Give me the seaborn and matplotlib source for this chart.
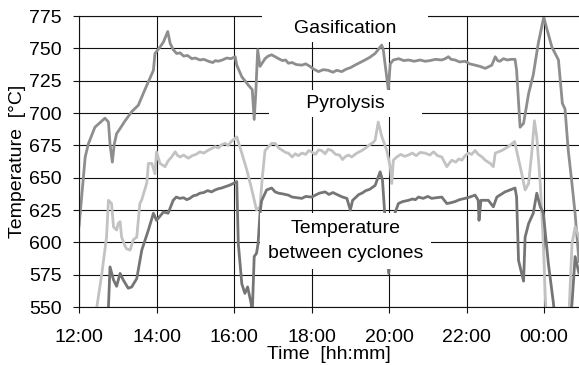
import matplotlib
matplotlib.use("Agg")
import matplotlib.pyplot as plt
import pandas as pd
import seaborn as sns

# time as clock hours (values above 24 are past midnight), temperature in degC
gas_time = [12.00, 12.16, 12.24, 12.41, 12.67, 12.76, 12.80, 12.86, 12.91, 12.97,
            13.06, 13.19, 13.36, 13.53, 13.70, 13.92, 13.96, 14.09, 14.18, 14.29,
            14.35, 14.43, 14.52, 14.61, 14.70, 14.80, 14.91, 15.00, 15.12, 15.22,
            15.34, 15.45, 15.52, 15.59, 15.70, 15.81, 15.92, 16.03, 16.07,
            16.20, 16.37, 16.47, 16.52, 16.56, 16.61, 16.67, 16.80, 16.88, 16.97,
            17.06, 17.15, 17.25, 17.33, 17.40, 17.50, 17.60, 17.75, 17.85, 17.96,
            18.05, 18.18, 18.30, 18.43, 18.55, 18.65, 18.78, 18.90, 19.00, 19.12,
            19.25, 19.38, 19.50, 19.64, 19.77,
            19.81, 19.85, 19.98, 20.03, 20.11, 20.25, 20.38, 20.50, 20.65, 20.80,
            20.93, 21.05, 21.20, 21.36, 21.45, 21.53, 21.60, 21.70, 21.82, 21.96,
            22.08, 22.22, 22.35, 22.48, 22.55, 22.65, 22.74, 22.80, 22.86, 22.95,
            23.05, 23.15, 23.25, 23.29, 23.38, 23.47,
            23.60, 23.72, 23.85, 23.99, 24.20, 24.37, 24.47, 24.54, 24.62, 24.72,
            24.80, 24.90]
gas_temp = [612, 666, 676, 689, 696, 693, 676, 662, 676, 684,
            688, 694, 701, 706, 718, 733, 746, 751, 755, 763,
            754, 749, 746, 746.5, 744, 744.5, 742, 742.5, 741, 741.5,
            740, 739, 740.5, 740, 741, 742.5, 742, 743.5, 737,
            728, 721.5, 718, 695, 715, 749, 736, 742, 744, 745,
            743.5, 742, 740.5, 741, 738.5, 739, 737.5, 737, 738, 736,
            734, 732, 733.5, 733, 731.5, 733, 732, 734, 735, 737,
            739, 741, 743, 746, 751,
            752.5, 749, 718, 738, 741, 742, 740.5, 741, 740, 741,
            740, 740.5, 741.5, 741, 742, 743.5, 741.5, 741, 739.5, 740,
            738, 737, 736, 734.5, 735.5, 737, 743.5, 740.5, 740, 742,
            741, 741.5, 741.5, 733, 689, 692,
            715, 729.5, 754, 774, 751, 741, 707.5, 703, 672, 645,
            622, 585]

pyr_time = [12.40, 12.46, 12.59, 12.71, 12.76, 12.84, 12.89, 12.97, 13.01, 13.06,
            13.10, 13.19, 13.23, 13.32, 13.40, 13.49, 13.57, 13.62, 13.75, 13.79,
            13.88, 13.96, 14.00, 14.09, 14.22, 14.30, 14.39, 14.48, 14.55, 14.61,
            14.70, 14.82, 14.92, 15.02, 15.12, 15.22, 15.32, 15.42, 15.51, 15.60,
            15.68, 15.77, 15.85, 15.93, 16.03, 16.07, 16.20, 16.33, 16.46, 16.58,
            16.67, 16.73, 16.80, 16.97, 17.06, 17.15, 17.25, 17.33, 17.40, 17.50,
            17.58, 17.66, 17.75, 17.85, 17.93, 18.00, 18.10, 18.18, 18.26, 18.35,
            18.43, 18.52, 18.62, 18.72, 18.80, 18.86, 18.95, 19.04, 19.12, 19.20,
            19.30, 19.40, 19.50, 19.58, 19.64, 19.72, 19.81, 19.94, 20.03, 20.07,
            20.11, 20.20, 20.30, 20.40, 20.50, 20.60, 20.70, 20.80, 20.93, 21.05,
            21.15, 21.25, 21.36, 21.49, 21.55, 21.62, 21.72, 21.80, 21.88, 21.96,
            22.05, 22.13, 22.22, 22.30, 22.40, 22.48, 22.61, 22.69,
            22.74, 22.91, 23.08, 23.24, 23.29, 23.42, 23.51, 23.60, 23.68, 23.75,
            23.81, 23.90, 23.98, 24.03, 24.08, 24.62, 24.72, 24.80, 24.90]
pyr_temp = [540, 550, 576, 604, 632.5, 630, 612, 609.5, 614.5, 616,
            604, 597, 595, 594, 602, 604, 630, 633, 646, 661,
            661, 653, 670, 661, 658.5, 663, 666, 670, 667, 666,
            667.5, 665, 667, 668, 670, 669, 671, 672.5, 674, 673,
            675.5, 676.5, 675, 678, 680.5, 681.5, 669, 656, 640.5, 625,
            627.5, 650.5, 671, 676.5, 676.5, 673, 671, 669.5, 669, 666,
            668.5, 667, 669, 668, 671, 670, 668, 671.5, 671, 668.5,
            672, 671, 668, 667.5, 664, 666, 667.5, 666, 668, 669.5,
            671, 673, 675.5, 677, 679, 693, 682, 671, 658.5, 645.5,
            663.5, 666, 668, 666.5, 667.5, 669, 667, 669.5, 669, 667.5,
            670, 667, 666, 658.5, 661, 663.5, 662, 664.5, 663.5, 667,
            669, 668, 671, 668, 666, 663.5, 661, 658.5,
            669, 671, 674, 678, 671, 653.5, 640.5, 645.5, 669, 694,
            681.5, 645.5, 599, 558, 530, 530, 599, 612, 604]

cyc_time = [12.75, 12.76, 12.80, 12.89, 12.97, 13.06, 13.14, 13.27, 13.36, 13.49,
            13.62, 13.79, 13.92, 14.00, 14.18, 14.30, 14.43, 14.51, 14.60, 14.70,
            14.78, 14.86, 14.95, 15.03, 15.12, 15.22, 15.32, 15.42, 15.51, 15.60,
            15.68, 15.77, 15.87, 15.98, 16.07, 16.11, 16.20, 16.28, 16.35, 16.44,
            16.47, 16.52, 16.58, 16.62, 16.67, 16.71, 16.84, 16.97, 17.06, 17.15,
            17.25, 17.40, 17.50, 17.62, 17.75, 17.85, 18.00, 18.10, 18.20, 18.35,
            18.45, 18.55, 18.69, 18.80, 18.91, 19.00, 19.06, 19.15, 19.22, 19.30,
            19.40, 19.50, 19.64, 19.77, 19.83, 19.99, 20.15, 20.24, 20.35, 20.50,
            20.60, 20.68, 20.76, 20.88, 21.00, 21.10, 21.22, 21.36, 21.49, 21.58,
            21.70, 21.82, 21.96, 22.08, 22.22, 22.30, 22.32, 22.37, 22.56, 22.69,
            22.78, 22.99, 23.25, 23.29, 23.34, 23.42, 23.47, 23.51, 23.60, 23.72,
            23.81, 23.90, 23.98, 24.11, 24.24, 24.28, 24.67, 24.72, 24.80, 24.90]
cyc_temp = [540, 550, 581, 571, 566, 576, 571, 564.5, 565.5, 572,
            594, 609.5, 622.5, 617, 623.5, 622.5, 632.5, 635, 634, 634.5,
            633, 634, 636, 636.5, 638, 638.5, 640, 639, 640.5, 641.5,
            642, 643, 644, 645.5, 647, 599, 568, 560.5, 565.5, 553,
            545, 589, 591.5, 599, 622.5, 632, 640.5, 642, 639, 638,
            637.5, 636.5, 635, 634.5, 634, 635.5, 635, 636.5, 638, 639,
            637, 638.5, 636.5, 635, 634, 625, 632.5, 635, 637, 638,
            640, 641, 644, 654.5, 648, 576, 622.5, 630, 631.5, 632.5,
            633.5, 633, 635, 634, 635.5, 634, 634.5, 635, 630, 630.5,
            631.5, 633, 634, 635, 636.5, 632.5, 617, 632.5, 632.5, 627.5,
            635, 639, 642, 635, 586, 576, 570, 604, 614.5, 622.5,
            638, 627.5, 622.5, 583.5, 553, 540, 540, 553, 589, 576]

x_ticks = [12, 14, 16, 18, 20, 22, 24]
x_tick_labels = ["12:00", "14:00", "16:00", "18:00", "20:00", "22:00", "00:00"]
y_ticks = list(range(550, 776, 25))

sns.set_style("white")
plt.rcParams['font.family'] = ['Liberation Sans', 'DejaVu Sans']
plt.rcParams['text.color'] = 'black'
plt.rcParams['axes.labelcolor'] = 'black'
plt.rcParams['xtick.color'] = 'black'
plt.rcParams['ytick.color'] = 'black'

fig = plt.figure(figsize=(5.79, 3.65), dpi=100)
ax = fig.add_axes([79 / 579, 58 / 365, 500 / 579, 291 / 365])

sns.lineplot(x=gas_time, y=gas_temp, ax=ax, color='#8e8e8e', lw=2.0,
             sort=False, estimator=None)
sns.lineplot(x=pyr_time, y=pyr_temp, ax=ax, color='#c2c2c2', lw=2.0,
             sort=False, estimator=None)
sns.lineplot(x=cyc_time, y=cyc_temp, ax=ax, color='#757575', lw=2.0,
             sort=False, estimator=None)

ax.set_xlim(12, 24.9)
ax.set_ylim(550, 775)
ax.set_xticks(x_ticks)
ax.set_xticklabels(x_tick_labels)
ax.set_yticks(y_ticks)

ax.grid(True, color='#111111', lw=0.8)
ax.set_axisbelow(True)
for side in ['left', 'bottom', 'top']:
    ax.spines[side].set_color('#111111')
    ax.spines[side].set_linewidth(0.8)
ax.spines['right'].set_visible(False)

ax.tick_params(bottom=True, left=True, direction='out', length=4.5, width=0.8,
               color='#111111', labelsize=14)
ax.tick_params(axis='x', pad=11)
ax.tick_params(axis='y', pad=8)

ax.set_xlabel("Time  [hh:mm]", fontsize=14, labelpad=0)
ax.set_ylabel("Temperature  [°C]", fontsize=14, labelpad=2)

# white label boxes like the original text boxes
ax.text(18.86, 765.5, "     Gasification     ", fontsize=14, ha='center', va='center',
        bbox=dict(boxstyle='square,pad=0.25', fc='white', ec='none'), zorder=3)
ax.text(18.87, 707.5, "      Pyrolysis      ", fontsize=14, ha='center', va='center',
        bbox=dict(boxstyle='square,pad=0.25', fc='white', ec='none'), zorder=3)
ax.text(18.87, 601, "Temperature\nbetween cyclones", fontsize=14, ha='center',
        va='center', linespacing=1.55,
        bbox=dict(boxstyle='square,pad=0.4', fc='white', ec='none'), zorder=3)

fig.savefig('out.png', dpi=100)
